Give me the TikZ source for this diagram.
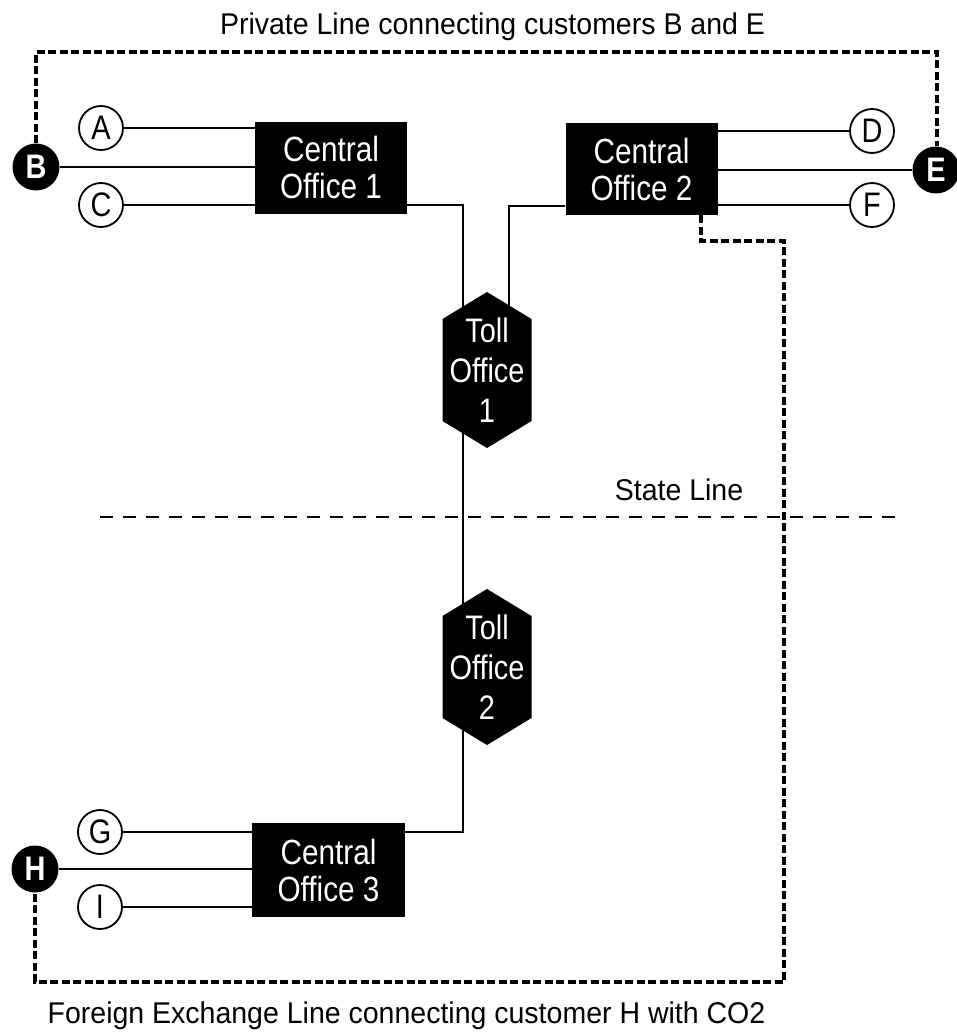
\documentclass[tikz,border=0pt]{standalone}
\usepackage{fontspec}
\setmainfont{Liberation Sans}
\newfontfamily\narrowfont[FakeStretch=0.85]{Liberation Sans}
\newfontfamily\labelfont[FakeStretch=0.95]{Liberation Sans}
\usetikzlibrary{backgrounds}
\begin{document}
\begin{tikzpicture}[x=1pt,y=-1pt,
  link/.style={line width=1.8pt},
  leased/.style={line width=3.3pt, dash pattern=on 8pt off 3.5pt},
  stateln/.style={line width=2.2pt, dash pattern=on 13pt off 10pt},
  cust/.style={circle, draw, line width=1.8pt, fill=white, minimum size=44pt, inner sep=0pt, font=\narrowfont\fontsize{34}{34}\selectfont},
  custp/.style={circle, fill=black, text=white, minimum size=47pt, inner sep=0pt, font=\narrowfont\fontsize{34}{34}\selectfont\bfseries},
  cobox/.style={rectangle, fill=black, text=white, inner sep=0pt, minimum width=152pt, minimum height=92pt, align=center, font=\narrowfont\fontsize{35}{37}\selectfont},
  tollbox/.style={rectangle, inner sep=0pt, minimum width=89pt, minimum height=156pt, text=white, align=center, font=\narrowfont\fontsize{34}{40}\selectfont,
    path picture={\fill[black] (path picture bounding box.north)
      -- ([yshift=-27pt]path picture bounding box.north east)
      -- ([yshift=27pt]path picture bounding box.south east)
      -- (path picture bounding box.south)
      -- ([yshift=27pt]path picture bounding box.south west)
      -- ([yshift=-27pt]path picture bounding box.north west) -- cycle;}},
  lbl/.style={inner sep=0pt, anchor=base, font=\labelfont\fontsize{30}{32}\selectfont}
]
\useasboundingbox (0,0) rectangle (956,1033);

% labels
\node[lbl] (title) at (492.5,35) {Private Line connecting customers B and E};
\node[lbl] (state) at (679,500) {State Line};
\node[lbl] (fxlabel) at (406.5,1023) {Foreign Exchange Line connecting customer H with CO2};

% offices
\node[cobox] (CO1) at (331,167.5) {Central\\Office 1};
\node[cobox] (CO2) at (641.5,169) {Central\\Office 2};
\node[cobox, minimum width=153pt, minimum height=94pt] (CO3) at (328.5,870) {Central\\Office 3};
\node[tollbox] (T1) at (487,370) {Toll\\Office\\1};
\node[tollbox] (T2) at (487,667) {Toll\\Office\\2};

% customers
\node[cust] (A) at (101,128) {A};
\node[custp] (B) at (36,167) {B};
\node[cust] (C) at (101,205) {C};
\node[cust] (D) at (872,131) {D};
\node[custp] (E) at (936,170) {E};
\node[cust] (F) at (872,205) {F};
\node[cust] (G) at (100,832) {G};
\node[custp] (H) at (35,869) {H};
\node[cust] (I) at (100,907) {I};

% helper coordinates
\coordinate (j1) at (463,205);
\coordinate (j2) at (509,206);
\coordinate (j3) at (463,832);
\coordinate (pltop) at (937,52);
\coordinate (fxa) at (701,241);
\coordinate (fxb) at (784,982);
\coordinate (sl) at (100,517);
\coordinate (sr) at (905,517);

\begin{pgfonlayer}{background}
  % subscriber loops
  \draw[link] (A) -- (A -| CO1.west);
  \draw[link] (B) -- (B -| CO1.west);
  \draw[link] (C) -- (C -| CO1.west);
  \draw[link] (D) -- (D -| CO2.east);
  \draw[link] (E) -- (E -| CO2.east);
  \draw[link] (F) -- (F -| CO2.east);
  \draw[link] (G) -- (G -| CO3.west);
  \draw[link] (H) -- (H -| CO3.west);
  \draw[link] (I) -- (I -| CO3.west);
  % trunks
  \draw[link] (CO1.east |- j1) -- (j1) -- (j1 |- T1.center);
  \draw[link] (CO2.west |- j2) -- (j2) -- (j2 |- T1.center);
  \draw[link] (j1 |- T1.center) -- (j1 |- T2.center);
  \draw[link] (j1 |- T2.center) -- (j3) -- (j3 -| CO3.east);
  % state line
  \draw[stateln] (sl) -- (sr);
\end{pgfonlayer}

% private line B - E
\draw[leased] (B.north) |- (pltop) -- (pltop |- E.north);
% foreign exchange line H - CO2
\draw[leased] (fxa |- CO2.south) -- (fxa) -| (fxb) -| (H.south);
\end{tikzpicture}
\end{document}
